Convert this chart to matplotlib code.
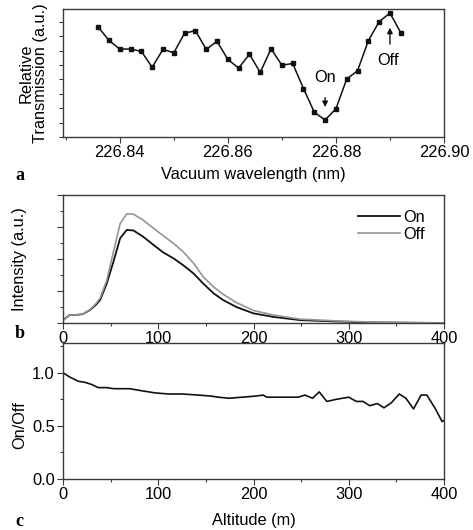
import matplotlib
matplotlib.use("Agg")
import matplotlib.pyplot as plt
from matplotlib.ticker import MultipleLocator

plt.rcParams['font.family'] = ['Liberation Sans', 'DejaVu Sans']

# ---- Panel a data ----
wavelength = [226.836, 226.838, 226.840, 226.842, 226.844, 226.846, 226.848, 226.850,
              226.852, 226.854, 226.856, 226.858, 226.860, 226.862, 226.864, 226.866,
              226.868, 226.870, 226.872, 226.874, 226.876, 226.878, 226.880, 226.882,
              226.884, 226.886, 226.888, 226.890, 226.892]
transmission = [3.82, 3.35, 3.05, 3.05, 2.97, 2.42, 3.04, 2.92, 3.60, 3.69, 3.04, 3.32,
                2.69, 2.39, 2.87, 2.24, 3.06, 2.49, 2.55, 1.68, 0.86, 0.59, 0.98, 2.01,
                2.30, 3.34, 4.00, 4.30, 3.62]
wl_ticks = [226.84, 226.86, 226.88, 226.90]
wl_ticklabels = ['226.84', '226.86', '226.88', '226.90']

# ---- Panel b data ----
alt_on = [0, 7, 14, 21, 28, 35, 39, 46, 53, 60, 67, 74, 84, 95, 105, 116, 126, 137,
          147, 158, 168, 175, 182, 200, 221, 249, 284, 320, 360, 400]
int_on = [0.09, 0.25, 0.25, 0.28, 0.40, 0.58, 0.72, 1.24, 1.92, 2.65, 2.91, 2.89, 2.70,
          2.44, 2.21, 2.02, 1.81, 1.55, 1.24, 0.93, 0.72, 0.61, 0.50, 0.30, 0.19, 0.09,
          0.05, 0.02, 0.01, 0.0]
alt_off = [0, 7, 14, 21, 28, 35, 39, 46, 53, 60, 67, 74, 84, 95, 105, 116, 126, 137,
           147, 158, 168, 175, 182, 200, 221, 249, 284, 320, 360, 400]
int_off = [0.08, 0.25, 0.25, 0.28, 0.41, 0.62, 0.78, 1.34, 2.23, 3.11, 3.41, 3.40, 3.22,
           2.96, 2.73, 2.49, 2.23, 1.87, 1.45, 1.13, 0.90, 0.77, 0.64, 0.39, 0.25, 0.12,
           0.07, 0.03, 0.01, 0.0]

# ---- Panel c data ----
alt_ratio = [0, 7, 16, 23, 30, 37, 46, 53, 62, 70, 83, 97, 111, 125, 142, 156, 163, 174,
             188, 202, 210, 214, 231, 247, 254, 262, 269, 277, 287, 300, 308, 315, 322,
             330, 337, 345, 353, 360, 368, 376, 382, 391, 398, 400]
ratio = [1.0, 0.96, 0.92, 0.91, 0.89, 0.86, 0.86, 0.85, 0.85, 0.85, 0.83, 0.81, 0.80,
         0.80, 0.79, 0.78, 0.77, 0.76, 0.77, 0.78, 0.79, 0.77, 0.77, 0.77, 0.79, 0.76,
         0.82, 0.73, 0.75, 0.77, 0.73, 0.73, 0.69, 0.71, 0.67, 0.72, 0.80, 0.76, 0.66,
         0.79, 0.79, 0.66, 0.54, 0.55]
alt_ticks = [0, 100, 200, 300, 400]

W, H = 473, 530
fig = plt.figure(figsize=(W / 100, H / 100), dpi=100)

def add_ax(left, top, right, bottom):
    return fig.add_axes([left / W, 1 - bottom / H, (right - left) / W, (bottom - top) / H])

spine_col = '#3a3a3a'
FS = 11.8

def style(ax):
    for s in ax.spines.values():
        s.set_color(spine_col)
        s.set_linewidth(1.0)
    ax.tick_params(which='major', direction='out', length=4, width=0.8, color=spine_col,
                   labelsize=FS, top=False, right=False, pad=2)
    ax.tick_params(which='minor', direction='out', length=2.5, width=0.8, color=spine_col,
                   top=False, right=False)

# Panel a
axa = add_ax(63, 9, 444, 137)
axa.plot(wavelength, transmission, color='#111111', lw=1.1, marker='s', ms=2.4)
axa.set_xlim(226.8295, 226.90)
axa.set_ylim(0, 4.44)
axa.set_xticks(wl_ticks)
axa.set_xticklabels(wl_ticklabels)
axa.xaxis.set_minor_locator(MultipleLocator(0.01))
axa.yaxis.set_major_locator(MultipleLocator(1))
axa.yaxis.set_minor_locator(MultipleLocator(0.5))
axa.set_yticklabels([])
style(axa)
axa.tick_params(axis='y', which='both', length=3)
axa.set_ylabel('Relative\nTransmission (a.u.)', fontsize=FS, linespacing=0.95)
axa.yaxis.set_label_coords(-0.040, 0.5)
axa.set_xlabel('Vacuum wavelength (nm)', fontsize=FS, labelpad=5)
axa.annotate('', xy=(226.878, 0.94), xytext=(226.878, 1.46),
             arrowprops=dict(arrowstyle='-|>', color='#111111', lw=1.0, mutation_scale=8))
axa.text(226.878, 2.08, 'On', ha='center', va='center', fontsize=FS)
axa.annotate('', xy=(226.890, 3.89), xytext=(226.890, 3.13),
             arrowprops=dict(arrowstyle='-|>', color='#111111', lw=1.0, mutation_scale=8))
axa.text(226.8897, 2.64, 'Off', ha='center', va='center', fontsize=FS)

# Panel b
axb = add_ax(63, 195, 444, 323)
axb.plot(alt_on, int_on, color='#111111', lw=1.3, label='On')
axb.plot(alt_off, int_off, color='#959595', lw=1.2, label='Off')
axb.set_xlim(0, 400)
axb.set_ylim(0, 4)
axb.set_xticks(alt_ticks)
axb.xaxis.set_minor_locator(MultipleLocator(50))
axb.yaxis.set_major_locator(MultipleLocator(1))
axb.yaxis.set_minor_locator(MultipleLocator(0.5))
axb.set_yticklabels([])
style(axb)
axb.set_ylabel('Intensity (a.u.)', fontsize=FS)
axb.yaxis.set_label_coords(-0.094, 0.5)
leg = axb.legend(loc='upper right', frameon=False, fontsize=FS, handlelength=2.6,
                 handletextpad=0.2, labelspacing=0.12, borderaxespad=0.5,
                 bbox_to_anchor=(0.99, 1.0))

# Panel c
axc = add_ax(63, 343, 444, 479)
axc.plot(alt_ratio, ratio, color='#111111', lw=1.2)
axc.set_xlim(0, 400)
axc.set_ylim(0, 1.28)
axc.set_xticks(alt_ticks)
axc.xaxis.set_minor_locator(MultipleLocator(50))
axc.set_yticks([0.0, 0.5, 1.0])
axc.set_yticklabels(['0.0', '0.5', '1.0'])
axc.yaxis.set_minor_locator(MultipleLocator(0.25))
style(axc)
axc.set_ylabel('On/Off', fontsize=FS)
axc.yaxis.set_label_coords(-0.094, 0.40)
axc.set_xlabel('Altitude (m)', fontsize=FS, labelpad=8)

# panel letters
for lbl, y in [('a', 176), ('b', 333), ('c', 521)]:
    fig.text(15 / W, 1 - y / H, lbl, fontsize=13, fontweight='bold',
             family=['Liberation Serif', 'DejaVu Serif'], ha='left', va='center')

fig.savefig('out.png', dpi=100)
